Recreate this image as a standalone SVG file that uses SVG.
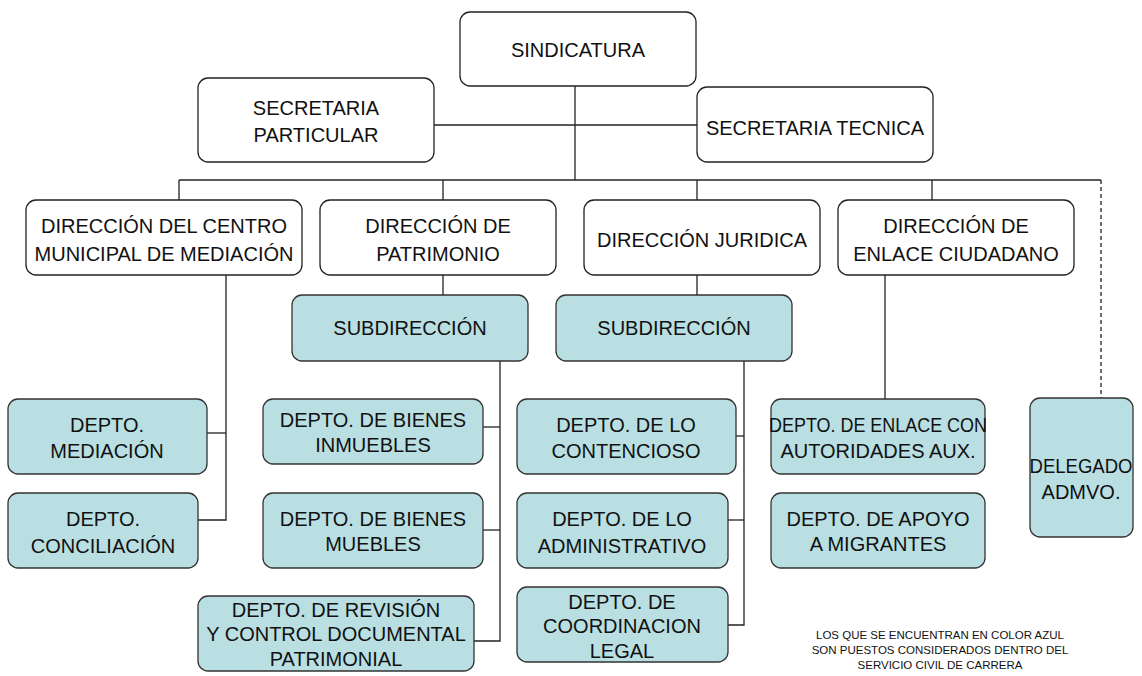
<svg xmlns="http://www.w3.org/2000/svg" width="1142" height="676" viewBox="0 0 1142 676">
<style>
.w{fill:#ffffff;stroke:#222;stroke-width:1.3}
.b{fill:#b9dfe3;stroke:#333;stroke-width:1.3}
text{font-family:"Liberation Sans",Arial,sans-serif;font-size:20px;fill:#111;text-anchor:middle}
.n{font-size:11.5px}
.c line,.c polyline{stroke:#222;stroke-width:1.3;fill:none}
.d{stroke-dasharray:4,3}
</style>
<rect width="1142" height="676" fill="#ffffff"/>
<g class="c" id="connectors">
<line x1="575" y1="86" x2="575" y2="180"/>
<line x1="434" y1="125" x2="697" y2="125"/>
<line x1="179" y1="180" x2="1101" y2="180"/>
<line x1="179" y1="180" x2="179" y2="200"/>
<line x1="443" y1="180" x2="443" y2="200"/>
<line x1="697" y1="180" x2="697" y2="200"/>
<line x1="932" y1="180" x2="932" y2="200"/>
<line class="d" x1="1101" y1="180" x2="1101" y2="398"/>
<polyline points="226,275 226,520 198,520"/>
<line x1="207" y1="433" x2="226" y2="433"/>
<line x1="443" y1="275" x2="443" y2="295"/>
<polyline points="500,361 500,641 474,641"/>
<line x1="483" y1="427" x2="500" y2="427"/>
<line x1="483" y1="530" x2="500" y2="530"/>
<line x1="697" y1="275" x2="697" y2="295"/>
<polyline points="744,361 744,625 728,625"/>
<line x1="736" y1="436" x2="744" y2="436"/>
<line x1="728" y1="520" x2="744" y2="520"/>
<line x1="885" y1="275" x2="885" y2="399"/>
</g>
<g id="sindicatura"><rect class="w" x="460" y="12" width="236" height="74" rx="10"/><text x="578" y="57">SINDICATURA</text></g>
<g id="sec-particular"><rect class="w" x="198" y="78" width="236" height="84" rx="10"/><text x="316" y="115">SECRETARIA</text><text x="316" y="142">PARTICULAR</text></g>
<g id="sec-tecnica"><rect class="w" x="697" y="87" width="236" height="75" rx="10"/><text x="815" y="135">SECRETARIA TECNICA</text></g>
<g id="dir-centro"><rect class="w" x="26" y="200" width="276" height="75" rx="10"/><text x="164" y="233">DIRECCIÓN DEL CENTRO</text><text x="164" y="261">MUNICIPAL DE MEDIACIÓN</text></g>
<g id="dir-patrimonio"><rect class="w" x="320" y="200" width="236" height="75" rx="10"/><text x="438" y="233">DIRECCIÓN DE</text><text x="438" y="261">PATRIMONIO</text></g>
<g id="dir-juridica"><rect class="w" x="584" y="200" width="236" height="75" rx="10"/><text x="702" y="247">DIRECCIÓN JURIDICA</text></g>
<g id="dir-enlace"><rect class="w" x="838" y="200" width="236" height="75" rx="10"/><text x="956" y="233">DIRECCIÓN DE</text><text x="956" y="261">ENLACE CIUDADANO</text></g>
<g id="sub-patrimonio"><rect class="b" x="292" y="295" width="236" height="66" rx="10"/><text x="410" y="335">SUBDIRECCIÓN</text></g>
<g id="sub-juridica"><rect class="b" x="556" y="295" width="236" height="66" rx="10"/><text x="674" y="335">SUBDIRECCIÓN</text></g>
<g id="depto-mediacion"><rect class="b" x="8" y="399" width="199" height="75" rx="10"/><text x="107" y="432">DEPTO.</text><text x="107" y="458">MEDIACIÓN</text></g>
<g id="depto-conciliacion"><rect class="b" x="8" y="493" width="190" height="75" rx="10"/><text x="103" y="526">DEPTO.</text><text x="103" y="553">CONCILIACIÓN</text></g>
<g id="depto-inmuebles"><rect class="b" x="263" y="399" width="220" height="65" rx="10"/><text x="373" y="427">DEPTO. DE BIENES</text><text x="373" y="452">INMUEBLES</text></g>
<g id="depto-muebles"><rect class="b" x="263" y="493" width="220" height="75" rx="10"/><text x="373" y="526">DEPTO. DE BIENES</text><text x="373" y="551">MUEBLES</text></g>
<g id="depto-revision"><rect class="b" x="198" y="596" width="276" height="75" rx="10"/><text x="336" y="617">DEPTO. DE REVISIÓN</text><text x="336" y="641">Y CONTROL DOCUMENTAL</text><text x="336" y="666">PATRIMONIAL</text></g>
<g id="depto-contencioso"><rect class="b" x="517" y="399" width="219" height="75" rx="10"/><text x="626" y="432">DEPTO. DE LO</text><text x="626" y="458">CONTENCIOSO</text></g>
<g id="depto-administrativo"><rect class="b" x="517" y="493" width="211" height="75" rx="10"/><text x="622" y="526">DEPTO. DE LO</text><text x="622" y="553">ADMINISTRATIVO</text></g>
<g id="depto-coordinacion"><rect class="b" x="517" y="587" width="211" height="75" rx="10"/><text x="622" y="609">DEPTO. DE</text><text x="622" y="633">COORDINACION</text><text x="622" y="658">LEGAL</text></g>
<g id="depto-enlace"><rect class="b" x="771" y="399" width="214" height="75" rx="10"/><text x="878" y="432" textLength="218" lengthAdjust="spacingAndGlyphs">DEPTO. DE ENLACE CON</text><text x="878" y="458">AUTORIDADES AUX.</text></g>
<g id="depto-migrantes"><rect class="b" x="771" y="493" width="214" height="75" rx="10"/><text x="878" y="526">DEPTO. DE APOYO</text><text x="878" y="551">A MIGRANTES</text></g>
<g id="delegado"><rect class="b" x="1030" y="398" width="103" height="139" rx="10"/><text x="1081" y="473" textLength="103" lengthAdjust="spacingAndGlyphs">DELEGADO</text><text x="1081" y="499">ADMVO.</text></g>
<g id="nota"><text class="n" x="940" y="639">LOS QUE SE ENCUENTRAN EN COLOR AZUL</text><text class="n" x="940" y="654">SON PUESTOS  CONSIDERADOS DENTRO DEL</text><text class="n" x="940" y="669">SERVICIO CIVIL DE CARRERA</text></g>
</svg>
